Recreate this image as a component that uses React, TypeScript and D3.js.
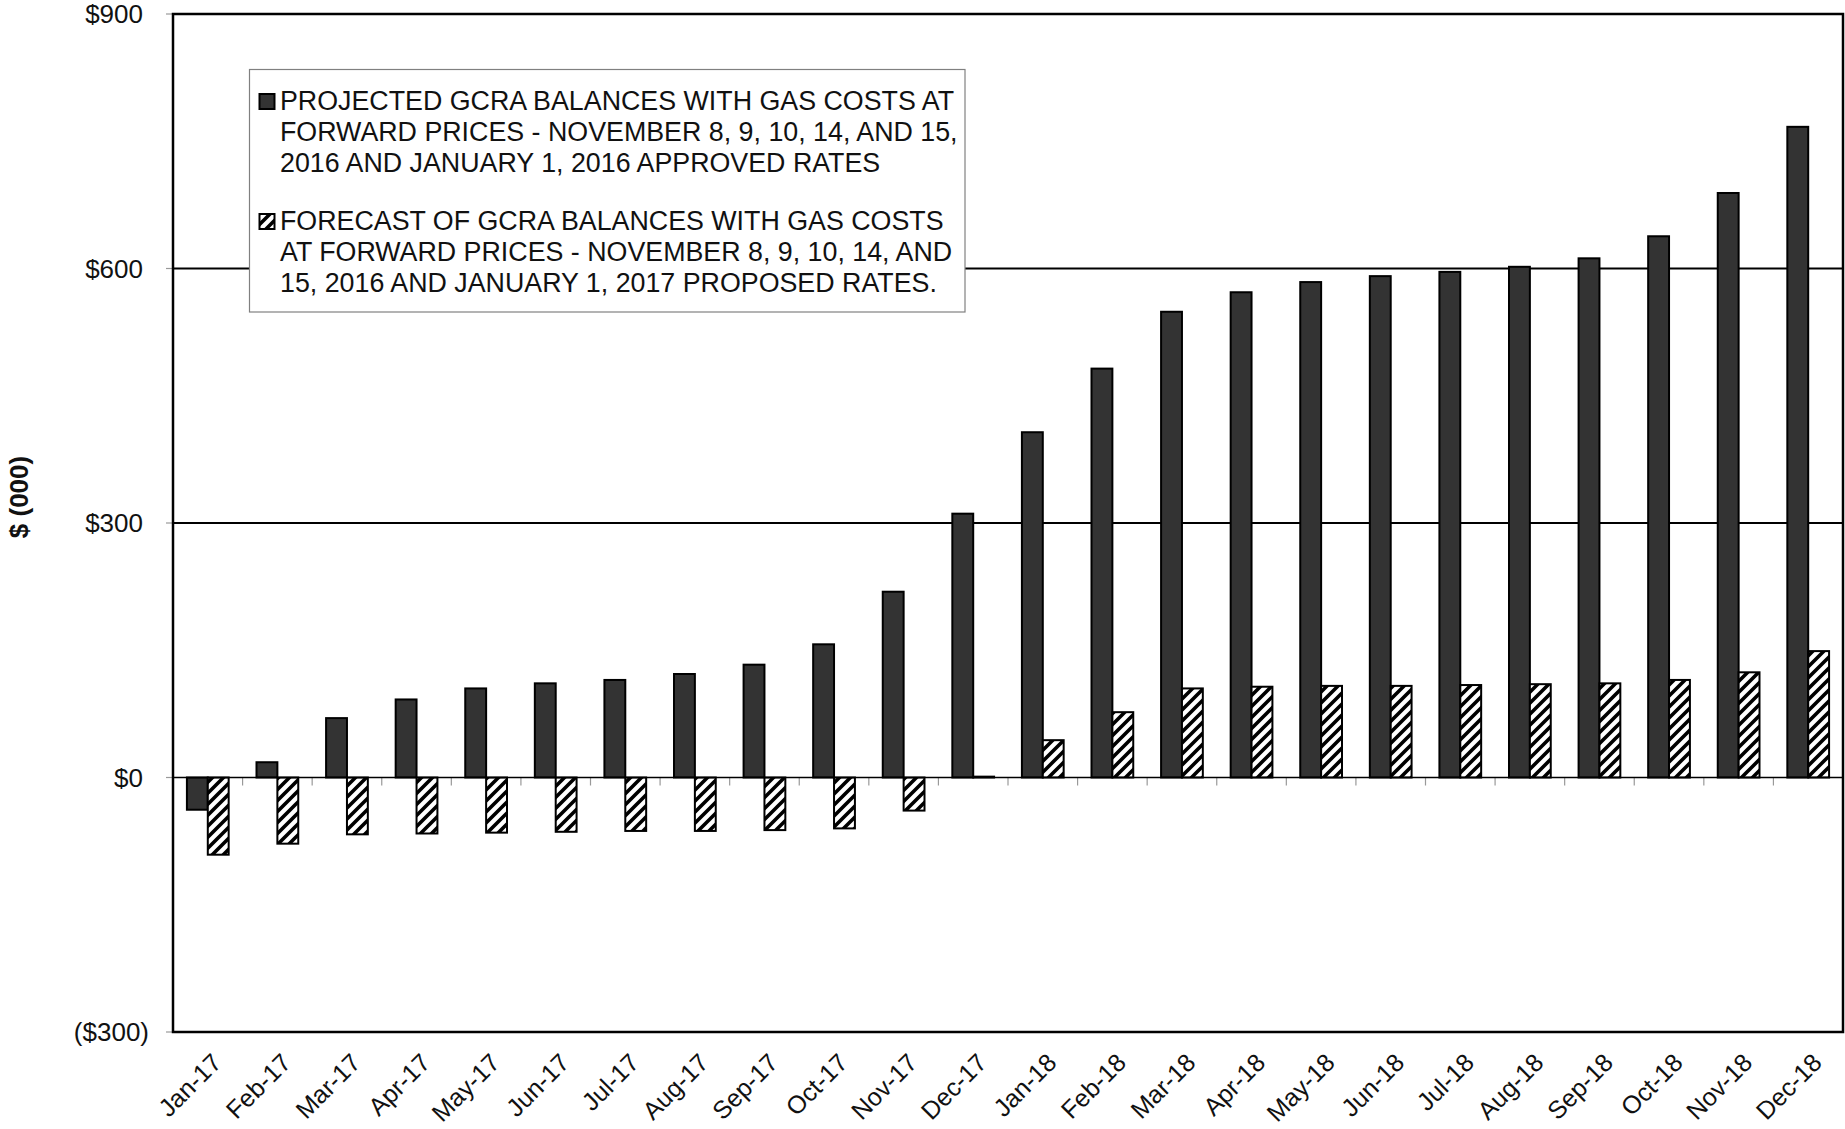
import React from "react";
import * as d3 from "d3";

// Monthly GCRA balances, $ (000)
const months = [
  "Jan-17", "Feb-17", "Mar-17", "Apr-17", "May-17", "Jun-17",
  "Jul-17", "Aug-17", "Sep-17", "Oct-17", "Nov-17", "Dec-17",
  "Jan-18", "Feb-18", "Mar-18", "Apr-18", "May-18", "Jun-18",
  "Jul-18", "Aug-18", "Sep-18", "Oct-18", "Nov-18", "Dec-18",
];

const projectedApproved = [
  -38, 18, 70, 92, 105, 111, 115, 122, 133, 157, 219, 311,
  407, 482, 549, 572, 584, 591, 596, 602, 612, 638, 689, 767,
];

const forecastProposed = [
  -91, -78, -67, -66, -65, -64, -63, -63, -62, -60, -39, 1,
  44, 77, 105, 107, 108, 108, 109, 110, 111, 115, 124, 149,
];

const yTicks = [-300, 0, 300, 600, 900];
const gridValues = [300, 600];

const legendApproved = [
  "PROJECTED GCRA BALANCES WITH GAS COSTS AT",
  "FORWARD PRICES - NOVEMBER 8, 9, 10, 14, AND 15,",
  "2016 AND JANUARY 1, 2016 APPROVED RATES",
];
const legendProposed = [
  "FORECAST OF GCRA BALANCES WITH GAS COSTS",
  "AT FORWARD PRICES - NOVEMBER 8, 9, 10, 14, AND",
  "15, 2016 AND JANUARY 1, 2017 PROPOSED RATES.",
];

const yTitle = "$ (000)";

const W = 1845;
const H = 1129;
const plot = { left: 173, right: 1843, top: 14, bottom: 1032 };
const FONT = "'Liberation Sans', Arial, Helvetica, sans-serif";
const DARK = "#333333";

const fmtDollar = (v: number) => (v < 0 ? `($${-v})` : `$${v}`);

export default function App() {
  const y = d3.scaleLinear().domain([-300, 900]).range([plot.bottom, plot.top]);
  const x0 = d3
    .scaleBand<string>()
    .domain(months)
    .range([plot.left, plot.right])
    .paddingInner(0.4)
    .paddingOuter(0.2);
  const x1 = d3
    .scaleBand<string>()
    .domain(["approved", "proposed"])
    .range([0, x0.bandwidth()]);

  const step = x0.step();
  const zeroY = y(0);

  const rows = months.map((m, i) => ({
    m,
    a: projectedApproved[i],
    p: forecastProposed[i],
  }));

  const barRect = (v: number) => ({
    y: Math.min(y(v), zeroY),
    h: Math.abs(y(v) - zeroY),
  });

  const legendX = 249.5;
  const legendY = 69.5;
  const legendW = 715.5;
  const legendH = 242.5;
  const lineGap = 31;
  const group1Base = 110;
  const group2Base = 230;

  return (
    <svg
      width={W}
      height={H}
      viewBox={`0 0 ${W} ${H}`}
      style={{ position: "absolute", left: 0, top: 0, background: "#fff" }}
      fontFamily={FONT}
    >
      <defs>
        <pattern
          id="hatch"
          patternUnits="userSpaceOnUse"
          width={11}
          height={11}
        >
          <rect width={11} height={11} fill="#fff" />
          <path
            d="M-2,2 l4,-4 M0,11 l11,-11 M9,13 l4,-4"
            stroke="#000"
            strokeWidth={3.6}
          />
        </pattern>
      </defs>

      <rect x={0} y={0} width={W} height={H} fill="#fff" />

      {/* horizontal gridlines */}
      {gridValues.map((v) => (
        <line
          key={v}
          x1={plot.left}
          x2={plot.right}
          y1={y(v)}
          y2={y(v)}
          stroke="#000"
          strokeWidth={2}
        />
      ))}

      {/* y ticks and labels */}
      {yTicks.map((v) => (
        <g key={v}>
          <line
            x1={plot.left - 7}
            x2={plot.left}
            y1={y(v)}
            y2={y(v)}
            stroke="#999"
            strokeWidth={1.2}
          />
          <text
            x={v < 0 ? 149 : 143}
            y={y(v)}
            dy="0.35em"
            textAnchor="end"
            fontSize={26}
            fill="#111"
          >
            {fmtDollar(v)}
          </text>
        </g>
      ))}

      {/* category ticks below the zero line */}
      {months.map((m, i) =>
        i === 0 ? null : (
          <line
            key={m}
            x1={plot.left + step * i}
            x2={plot.left + step * i}
            y1={zeroY}
            y2={zeroY + 8}
            stroke="#999"
            strokeWidth={1.2}
          />
        )
      )}

      {/* bars */}
      {rows.map((r) => {
        const gx = x0(r.m) as number;
        const a = barRect(r.a);
        const p = barRect(r.p);
        return (
          <g key={r.m}>
            <rect
              x={gx + (x1("approved") as number)}
              y={a.y}
              width={x1.bandwidth()}
              height={a.h}
              fill={DARK}
              stroke="#000"
              strokeWidth={2}
            />
            <rect
              x={gx + (x1("proposed") as number)}
              y={p.y}
              width={x1.bandwidth()}
              height={p.h}
              fill="url(#hatch)"
              stroke="#000"
              strokeWidth={2}
            />
          </g>
        );
      })}

      {/* zero line */}
      <line
        x1={plot.left}
        x2={plot.right}
        y1={zeroY}
        y2={zeroY}
        stroke="#000"
        strokeWidth={1.5}
      />

      {/* plot frame */}
      <rect
        x={plot.left}
        y={plot.top}
        width={plot.right - plot.left}
        height={plot.bottom - plot.top}
        fill="none"
        stroke="#000"
        strokeWidth={2.5}
      />

      {/* x labels */}
      {months.map((m) => {
        const cx = (x0(m) as number) + x0.bandwidth() / 2 + 9;
        const cy = plot.bottom + 26;
        return (
          <text
            key={m}
            x={cx}
            y={cy}
            dy="0.35em"
            textAnchor="end"
            fontSize={25}
            fill="#111"
            transform={`rotate(-45, ${cx}, ${cy})`}
          >
            {m}
          </text>
        );
      })}

      {/* y-axis title */}
      <text
        transform="translate(28, 497) rotate(-90)"
        textAnchor="middle"
        fontSize={26}
        fontWeight="bold"
        fill="#111"
      >
        {yTitle}
      </text>

      {/* legend */}
      <g>
        <rect
          x={legendX}
          y={legendY}
          width={legendW}
          height={legendH}
          fill="#fff"
          stroke="#808080"
          strokeWidth={1.2}
        />
        <rect x={259.5} y={94} width={15} height={15} fill={DARK} stroke="#000" strokeWidth={2} />
        {legendApproved.map((t, i) => (
          <text key={t} x={280} y={group1Base + i * lineGap} fontSize={26.8} fill="#111">
            {t}
          </text>
        ))}
        <rect
          x={259.5}
          y={group2Base - 16}
          width={15}
          height={15}
          fill="url(#hatch)"
          stroke="#000"
          strokeWidth={2}
        />
        {legendProposed.map((t, i) => (
          <text key={t} x={280} y={group2Base + i * lineGap} fontSize={26.8} fill="#111">
            {t}
          </text>
        ))}
      </g>
    </svg>
  );
}
